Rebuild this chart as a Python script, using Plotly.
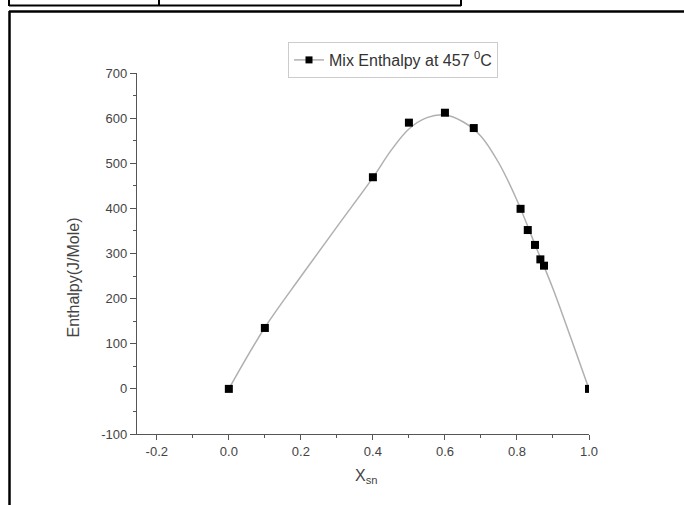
import plotly.graph_objects as go

# measured data points
x_pts = [0.0, 0.1, 0.4, 0.5, 0.6, 0.68, 0.81, 0.83, 0.85, 0.865, 0.875, 1.0]
y_pts = [0, 135, 469, 590, 612, 578, 399, 352, 319, 287, 273, 0]

# fitted curve
x_fit = [0.0, 0.1, 0.2, 0.3, 0.4, 0.45, 0.5, 0.55, 0.6, 0.65, 0.7, 0.75, 0.8, 0.85, 0.9, 0.95, 1.0]
y_fit = [0, 136, 249, 359, 468, 528, 576, 601, 607, 592, 560, 500, 418, 320, 222, 112, 0]

x_ticks = [-0.2, 0.0, 0.2, 0.4, 0.6, 0.8, 1.0]
x_labels = ["-0.2", "0.0", "0.2", "0.4", "0.6", "0.8", "1.0"]
y_ticks = [-100, 0, 100, 200, 300, 400, 500, 600, 700]
y_labels = ["-100", "0", "100", "200", "300", "400", "500", "600", "700"]

series_name = "Mix Enthalpy at 457 <sup>0</sup>C"

# plot-area in pixels
L, R, T, B = 137, 589, 73, 434
W, H = 684, 505
def px(x):
    return (x - L) / (R - L)
def py(y):
    return (B - y) / (B - T)

fig = go.Figure()
fig.add_trace(go.Scatter(x=x_fit, y=y_fit, mode="lines", line=dict(color="#b0b0b0", width=1.5, shape="spline"),
                         showlegend=False, hoverinfo="skip"))
fig.add_trace(go.Scatter(x=x_pts, y=y_pts, mode="markers",
                         marker=dict(symbol="square", size=8, color="black"), showlegend=False))
fig.add_trace(go.Scatter(x=[None], y=[None], mode="lines+markers", name=series_name,
                         line=dict(color="#b0b0b0", width=1.5),
                         marker=dict(symbol="square", size=7, color="black")))

axcol = "#555555"
txtcol = "#444444"
fig.update_xaxes(range=[-0.255, 1.0], showline=True, linecolor=axcol, linewidth=1.2,
                 ticks="outside", ticklen=5, tickcolor=axcol, tickwidth=1.2,
                 tickvals=x_ticks, ticktext=x_labels,
                 minor=dict(ticks="outside", ticklen=3, tickcolor=axcol, dtick=0.1, tick0=0),
                 showgrid=False, zeroline=False,
                 tickfont=dict(family="Arial", size=13, color=txtcol))
fig.update_yaxes(range=[-100, 700], showline=True, linecolor=axcol, linewidth=1.2,
                 ticks="outside", ticklen=6, tickcolor=axcol, tickwidth=1.2,
                 tickvals=y_ticks, ticktext=y_labels,
                 minor=dict(ticks="outside", ticklen=3, tickcolor=axcol, dtick=50, tick0=0),
                 showgrid=False, zeroline=False,
                 tickfont=dict(family="Arial", size=13, color=txtcol))

shapes = []
def line(x0, y0, x1, y1, w=2):
    shapes.append(dict(type="line", xref="paper", yref="paper",
                       x0=px(x0), y0=py(y0), x1=px(x1), y1=py(y1),
                       line=dict(color="black", width=w)))
# top table fragment
line(9, -2, 9, 6)
line(159, -2, 159, 6)
line(461, -2, 461, 6)
line(9, 5.5, 461, 5.5)
# big frame
line(9, 11.5, 700, 11.5, 2.5)
line(9.5, 11, 9.5, 520, 2.5)

annotations = [
    dict(text="Enthalpy(J/Mole)", xref="paper", yref="paper", x=px(62), y=py(278),
         textangle=-90, showarrow=False, font=dict(family="Arial", size=16, color=txtcol)),
    dict(text="X<sub>sn</sub>", xref="paper", yref="paper", x=px(366), y=py(488),
         showarrow=False, font=dict(family="Arial", size=16, color=txtcol)),
]

fig.update_layout(
    width=W, height=H, margin=dict(l=L, r=W - R, t=T, b=H - B),
    plot_bgcolor="white", paper_bgcolor="white",
    shapes=shapes, annotations=annotations,
    legend=dict(x=px(288), y=py(42), xanchor="left", yanchor="top",
                bordercolor="#cccccc", borderwidth=1, bgcolor="white",
                font=dict(family="Arial", size=16, color="#333333"),
                itemwidth=30),
)

fig.write_html("out.html")
